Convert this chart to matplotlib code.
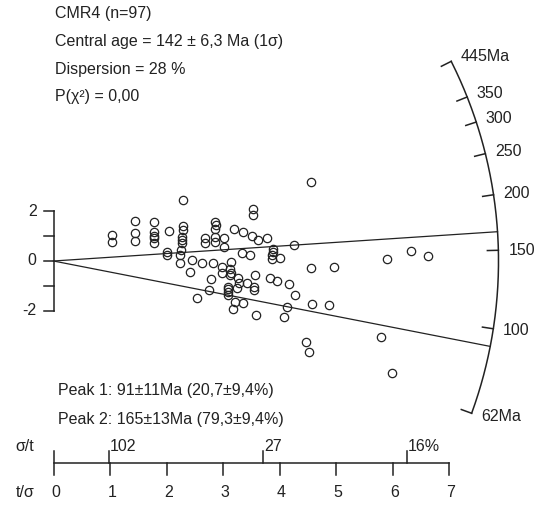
import numpy as np
import matplotlib.pyplot as plt

plt.rcParams['font.family'] = ['Liberation Sans', 'DejaVu Sans']

# radial plot values: x = t/sigma (precision), y = standardised estimate z
prec = [1.03, 1.03, 1.44, 1.44, 1.44, 1.78, 1.78, 1.78, 1.78, 2.04,
        2.00, 2.00, 2.30, 2.29, 2.29, 2.27, 2.27, 2.26, 2.24, 2.23,
        2.45, 2.42, 2.54, 2.62, 2.68, 2.68, 2.86, 2.88, 2.86, 2.86,
        3.02, 3.02, 2.82, 2.79, 2.75, 2.98, 2.98, 3.15, 3.12, 3.12,
        3.20, 3.36, 3.51, 3.62, 3.77, 3.53, 3.53, 3.33, 3.48, 3.27,
        3.29, 3.42, 3.09, 3.09, 3.08, 3.24, 3.54, 3.54, 3.57, 3.21,
        3.18, 3.36, 3.58, 3.83, 3.96, 3.88, 3.88, 3.86, 4.01, 4.26,
        4.17, 4.27, 4.13, 4.08, 4.56, 4.55, 4.97, 4.58, 4.88, 4.47,
        4.52, 5.90, 6.32, 6.62, 5.80, 5.99,
        1.78, 2.27, 3.09, 3.87, 2.86, 3.14]
zval = [1.05, 0.78, 1.61, 1.12, 0.81, 1.56, 1.18, 0.91, 0.71, 1.22,
        0.35, 0.24, 2.46, 1.41, 1.25, 0.98, 0.71, 0.44, 0.24, -0.09,
        0.04, -0.46, -1.50, -0.09, 0.91, 0.71, 1.58, 1.45, 0.98, 0.78,
        0.91, 0.58, -0.09, -0.72, -1.17, -0.25, -0.47, -0.03, -0.33, -0.56,
        1.28, 1.18, 1.02, 0.85, 0.91, 2.08, 1.85, 0.31, 0.24, -0.70,
        -0.87, -0.90, -1.04, -1.24, -1.37, -1.10, -1.04, -1.17, -0.56, -1.64,
        -1.93, -1.68, -2.18, -0.70, -0.79, 0.47, 0.37, 0.07, 0.11, 0.64,
        -0.94, -1.37, -1.84, -2.27, 3.17, -0.27, -0.23, -1.74, -1.78, -3.25,
        -3.66, 0.07, 0.40, 0.19, -3.05, -4.52,
        1.00, 0.85, -1.13, 0.24, 1.29, -0.48]

central_age = 142.0
peak_ages = [91, 165]
age_range = [62, 445]
age_ticks = [62, 100, 150, 200, 250, 300, 350, 445]
age_labels = ['62Ma', '100', '150', '200', '250', '300', '350', '445Ma']
rel_err = [102, 27, 16]
rel_labels = ['102', '27', '16%']
prec_ticks = [0, 1, 2, 3, 4, 5, 6, 7]
z_ticks = [-2, -1, 0, 1, 2]
z_labels = {-2: '-2', 0: '0', 2: '2'}

header = ['CMR4 (n=97)',
          'Central age = 142 \u00b1 6,3 Ma (1\u03c3)',
          'Dispersion = 28 %',
          'P(\u03c7\u00b2) = 0,00']
peak_text = ['Peak 1: 91\u00b111Ma (20,7\u00b19,4%)',
             'Peak 2: 165\u00b113Ma (79,3\u00b19,4%)']

W, H = 545, 507
fig = plt.figure(figsize=(W / 100, H / 100), dpi=100)
ax = fig.add_axes([0, 0, 1, 1])
ax.set_xlim(-0.947, 8.699)
ax.set_ylim(-9.907, 10.511)
ax.axis('off')

# pixels per data unit, used to draw the age arc as a circle on screen
p0 = ax.transData.transform((0, 0))
p1 = ax.transData.transform((1, 1))
sx, sy = p1[0] - p0[0], p1[1] - p0[1]
R = 445.0
col = '#222222'
fs = 11.5


def arc_xy(t, r):
    s = np.log(np.asarray(t, dtype=float) / central_age)
    n = np.hypot(sx, sy * s)
    return r / n, r * s / n


# points
ax.plot(prec, zval, 'o', mfc='none', mec=col, ms=6.0, mew=0.9, zorder=3)

# peak lines
for t in peak_ages:
    xe, ye = arc_xy(t, R)
    ax.plot([0, xe], [0, ye], color=col, lw=0.9)

# age arc with ticks and labels
ta = np.geomspace(age_range[0], age_range[1], 300)
xa, ya = arc_xy(ta, R)
ax.plot(xa, ya, color=col, lw=1.1)
for t, lab in zip(age_ticks, age_labels):
    xi, yi = arc_xy(t, R - 11)
    xo, yo = arc_xy(t, R)
    ax.plot([xi, xo], [yi, yo], color=col, lw=1.1)
    xl, yl = arc_xy(t, R + 10)
    ax.text(xl, yl, lab, ha='left', va='center', fontsize=fs, color=col)

# z axis
ax.plot([0, 0], [z_ticks[0], z_ticks[-1]], color=col, lw=1.1)
for z in z_ticks:
    ax.plot([-10 / sx, 0], [z, z], color=col, lw=1.1)
    if z in z_labels:
        ax.text(-17 / sx, z, z_labels[z], ha='right', va='center', fontsize=fs, color=col)

# precision axis at the bottom
yb = -8.15
ax.plot([prec_ticks[0], prec_ticks[-1]], [yb, yb], color=col, lw=1.1)
for p in prec_ticks:
    top = yb + 12 / sy if p == 0 else yb
    ax.plot([p, p], [yb - 12 / sy, top], color=col, lw=1.1)
    ax.text(p + 2 / sx, yb - 29 / sy, str(p), ha='center', va='center', fontsize=fs, color=col)
for e, lab in zip(rel_err, rel_labels):
    p = 100.0 / e
    ax.plot([p, p], [yb, yb + 12 / sy], color=col, lw=1.1)
    ax.text(p + 1 / sx, yb + 17 / sy, lab, ha='left', va='center', fontsize=fs, color=col)
ax.text(-38 / sx, yb + 17 / sy, '\u03c3/t', ha='left', va='center', fontsize=fs, color=col)
ax.text(-38 / sx, yb - 29 / sy, 't/\u03c3', ha='left', va='center', fontsize=fs, color=col)

for i, s in enumerate(header):
    fig.text(55 / W, 1 - (13.5 + 27.8 * i) / H, s, ha='left', va='center', fontsize=fs, color=col)
for i, s in enumerate(peak_text):
    fig.text(58 / W, 1 - (390 + 29.3 * i) / H, s, ha='left', va='center', fontsize=fs, color=col)

fig.savefig('out.png', dpi=100)
